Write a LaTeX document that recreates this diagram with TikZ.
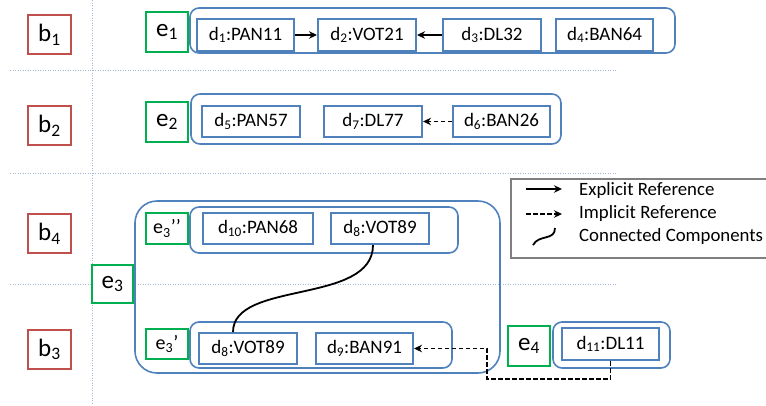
\documentclass[tikz,border=0pt]{standalone}
\usepackage{fontspec}
\setmainfont{Carlito}
\usetikzlibrary{arrows.meta}
\definecolor{bluebox}{HTML}{4F81BD}
\definecolor{redbox}{HTML}{C0504D}
\definecolor{greenbox}{HTML}{00B050}
\definecolor{gridc}{HTML}{A6B9D3}
\definecolor{legc}{HTML}{7F7F7F}
\begin{document}
\begin{tikzpicture}[x=1pt,y=-1pt,
  bbox/.style={draw=redbox,line width=1.9pt,minimum width=43pt,minimum height=39pt,inner sep=0pt,font=\fontsize{25}{28}\selectfont},
  ebox/.style={draw=greenbox,line width=1.9pt,minimum width=42pt,minimum height=40pt,inner sep=0pt,font=\fontsize{25}{28}\selectfont},
  esub/.style={ebox,minimum height=31pt,font=\fontsize{20}{24}\selectfont},
  dbox/.style={draw=bluebox,line width=2pt,minimum width=98pt,minimum height=31pt,inner sep=0pt,font=\fontsize{19}{22}\selectfont},
  cont/.style={draw=bluebox,line width=1.6pt,rounded corners=9pt,inner sep=0pt},
  gridline/.style={draw=gridc,line width=0.7pt,dash pattern=on 1pt off 1.5pt},
  expl/.style={draw=black,line width=1.8pt,-{Stealth[length=8pt,width=7.5pt]}},
  impl/.style={draw=black,line width=1.8pt,dash pattern=on 4.5pt off 2.5pt,-{Stealth[length=8pt,width=7.5pt]}},
  conn/.style={draw=black,line width=1.8pt},
  legtext/.style={anchor=west,inner sep=0pt,font=\fontsize{18.8}{22}\selectfont}
]
\useasboundingbox (0,0) rectangle (766,405);
\clip (0,0) rectangle (766,405);

% grid lines
\coordinate (gv1) at (92,0);
\coordinate (gv2) at (92,405);
\draw[gridline] (gv1) -- (gv2);
\coordinate (gh1a) at (10,70);  \coordinate (gh1b) at (617,70);
\coordinate (gh2a) at (10,173); \coordinate (gh2b) at (617,173);
\coordinate (gh3a) at (10,284); \coordinate (gh3b) at (617,284);
\draw[gridline] (gh1a) -- (gh1b);
\draw[gridline] (gh2a) -- (gh2b);
\draw[gridline] (gh3a) -- (gh3b);

% b boxes
\node[bbox] (b1) at (49.5,34.5) {b\textsubscript{1}};
\node[bbox] (b2) at (49.5,125.5) {b\textsubscript{2}};
\node[bbox] (b4) at (49.5,233.5) {b\textsubscript{4}};
\node[bbox] (b3) at (49.5,349.5) {b\textsubscript{3}};

% containers
\node[cont,minimum width=485pt,minimum height=45pt] (c1) at (432.5,30.5) {};
\node[cont,minimum width=370pt,minimum height=50pt] (c2) at (376,119) {};
\node[cont,rounded corners=22pt,minimum width=365pt,minimum height=172pt] (c3) at (317.5,287) {};
\node[cont,minimum width=268pt,minimum height=46pt] (c3b) at (324,230) {};
\node[cont,minimum width=262pt,minimum height=46pt] (c3a) at (321,345) {};
\node[cont,minimum width=117pt,minimum height=46pt] (c4) at (611.5,345) {};

% e boxes
\node[ebox,fill=white] (e1) at (167,32) {e\textsubscript{1}};
\node[ebox,fill=white] (e2) at (167,122) {e\textsubscript{2}};
\node[ebox,fill=white,minimum width=41pt,minimum height=38pt] (e3) at (112.5,284) {e\textsubscript{3}};
\node[esub] (e3b) at (167,228.5) {e\textsubscript{3}’’};
\node[esub,minimum height=30pt] (e3a) at (167,344) {e\textsubscript{3}’};
\node[ebox] (e4) at (529,346) {e\textsubscript{4}};

% d boxes
\node[dbox,minimum width=97pt,minimum height=32pt] (d1) at (245.5,35) {d\textsubscript{1}:PAN11};
\node[dbox,minimum height=32pt] (d2) at (367,35) {d\textsubscript{2}:VOT21};
\node[dbox,minimum height=32pt] (d3) at (492,35) {d\textsubscript{3}:DL32};
\node[dbox,minimum width=97pt,minimum height=32pt] (d4) at (604.5,35) {d\textsubscript{4}:BAN64};
\node[dbox] (d5) at (251,121.5) {d\textsubscript{5}:PAN57};
\node[dbox] (d7) at (373,121.5) {d\textsubscript{7}:DL77};
\node[dbox,minimum width=97pt] (d6) at (501.5,121.5) {d\textsubscript{6}:BAN26};
\node[dbox,minimum width=110pt] (d10) at (258,228.5) {d\textsubscript{10}:PAN68};
\node[dbox] (d8a) at (380,228.5) {d\textsubscript{8}:VOT89};
\node[dbox] (d8b) at (248,348.5) {d\textsubscript{8}:VOT89};
\node[dbox,minimum width=97pt] (d9) at (364.5,348.5) {d\textsubscript{9}:BAN91};
\node[dbox,minimum width=97pt,minimum height=32pt] (d11) at (610.5,344) {d\textsubscript{11}:DL11};

% connectors
\draw[expl] (d1) -- (d2);
\draw[expl] (d3) -- (d2);
\draw[impl] (d6) -- (d7);
\draw[conn] ([xshift=-7pt]d8a.south) .. controls (373,305) and (233,280) .. ([xshift=-15pt]d8b.north);
\coordinate (k1) at (487,379);
\draw[impl] (d11.south) |- (k1) |- (d9.east);

% legend
\node[draw=legc,line width=1.4pt,minimum width=309pt,minimum height=79pt,inner sep=0pt] (legend) at (665.5,218.5) {};
\coordinate (la1) at (526,189); \coordinate (lb1) at (562,189);
\coordinate (la2) at (526,214); \coordinate (lb2) at (562,214);
\coordinate (la3) at (533,245); \coordinate (lb3) at (555,228);
\draw[expl] (la1) -- (lb1);
\draw[impl] (la2) -- (lb2);
\draw[conn] (la3) .. controls (539,234) and (555,241) .. (lb3);
\node[legtext] (t1) at (579,190) {Explicit Reference};
\node[legtext] (t2) at (579,213) {Implicit Reference};
\node[legtext] (t3) at (579,236) {Connected Components};
\end{tikzpicture}
\end{document}
